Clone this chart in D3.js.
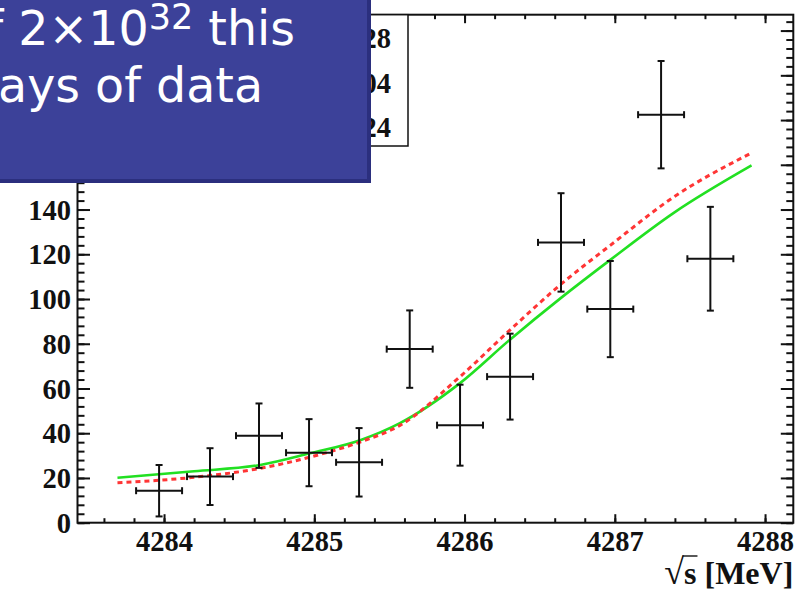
<!DOCTYPE html>
<html>
<head>
<meta charset="utf-8">
<script src="https://cdn.jsdelivr.net/npm/d3@7"></script>
<style>
  html, body { margin: 0; padding: 0; background: #fff; }
  svg { display: block; }
</style>
</head>
<body>
<svg id="chart" width="809" height="597"></svg>
<script>
// ---------------- data ----------------
const energy    = [4283.967, 4284.306, 4284.632, 4284.965, 4285.298, 4285.635, 4285.970, 4286.303, 4286.642, 4286.970, 4287.308, 4287.636];
const energyErr = [0.153, 0.153, 0.153, 0.153, 0.153, 0.153, 0.153, 0.153, 0.153, 0.153, 0.153, 0.153];
const counts    = [14.3, 20.6, 38.9, 31.3, 27.0, 77.6, 43.6, 65.3, 125.3, 95.5, 182.4, 118.0];
const countsErr = [11.5, 12.7, 14.4, 15.0, 15.3, 17.3, 18.1, 19.2, 22.0, 21.5, 24.0, 23.2];

const curveEnergy = [4283.69, 4284.20, 4284.64, 4284.97, 4285.31, 4285.57, 4285.97, 4286.30, 4286.64, 4286.97, 4287.39, 4287.91];
const greenFit    = [20.1, 23.0, 25.8, 31.0, 37.0, 44.5, 62.4, 81.7, 100.4, 117.5, 138.4, 159.7];
const redFit      = [17.9, 20.3, 24.3, 29.3, 36.2, 43.5, 65.3, 86.0, 106.5, 124.0, 145.5, 165.3];

const xMajorTicks = [4284, 4285, 4286, 4287, 4288];
const yMajorTicks = [0, 20, 40, 60, 80, 100, 120, 140, 160, 180, 200, 220];
const xLabel = "s [MeV]";
const statsValues = ["2.28", "4286.04", "1.24"];
const overlayLine1 = ["With a luminosity of 2×10", "32", " this"];
const overlayLine2 = "scan would take 30 days of data";

// ---------------- layout ----------------
const L = 77.5, R = 793.3, T = 14.7, B = 522.7;
const svg = d3.select("#chart");
svg.append("rect").attr("width", 809).attr("height", 597).attr("fill", "#fff");

const x = d3.scaleLinear().domain([4283.424, 4288.188]).range([L, R]);
const y = d3.scaleLinear().domain([0, 227.1]).range([B, T]);

const xMinor = d3.range(4283.6, 4288.19, 0.2).map(v => +v.toFixed(1));
const yMinor = d3.range(0, 227.2, 4);

const serif = "'Liberation Serif', 'Times New Roman', serif";

function styleAxis(g) {
  g.selectAll("path.domain").remove();
  g.selectAll(".tick line").attr("stroke", "#111").attr("stroke-width", 2);
}

// minor ticks
svg.append("g").attr("transform", `translate(0,${B})`)
  .call(d3.axisBottom(x).tickValues(xMinor).tickSize(-4.5).tickFormat("")).call(styleAxis);
svg.append("g").attr("transform", `translate(0,${T})`)
  .call(d3.axisTop(x).tickValues(xMinor).tickSize(-4.5).tickFormat("")).call(styleAxis);
svg.append("g").attr("transform", `translate(${L},0)`)
  .call(d3.axisLeft(y).tickValues(yMinor).tickSize(-7).tickFormat("")).call(styleAxis);
svg.append("g").attr("transform", `translate(${R},0)`)
  .call(d3.axisRight(y).tickValues(yMinor).tickSize(-7).tickFormat("")).call(styleAxis);

// major ticks
const xb = svg.append("g").attr("transform", `translate(0,${B})`)
  .call(d3.axisBottom(x).tickValues(xMajorTicks).tickSize(-8.5).tickPadding(0).tickFormat(d3.format("d")));
styleAxis(xb);
xb.selectAll(".tick text").attr("y", 28.5).attr("dy", 0)
  .style("font-family", serif).style("font-weight", "bold").style("font-size", "28.5px").attr("fill", "#111");

svg.append("g").attr("transform", `translate(0,${T})`)
  .call(d3.axisTop(x).tickValues(xMajorTicks).tickSize(-8.5).tickFormat("")).call(styleAxis);

const yl = svg.append("g").attr("transform", `translate(${L},0)`)
  .call(d3.axisLeft(y).tickValues(yMajorTicks).tickSize(-12.5).tickFormat(d3.format("d")));
styleAxis(yl);
yl.selectAll(".tick text").attr("x", -6.5).attr("dy", "0.34em")
  .style("font-family", serif).style("font-weight", "bold").style("font-size", "28.5px").attr("fill", "#111");

svg.append("g").attr("transform", `translate(${R},0)`)
  .call(d3.axisRight(y).tickValues(yMajorTicks).tickSize(-12.5).tickFormat("")).call(styleAxis);

// frame
svg.append("rect").attr("x", L).attr("y", T).attr("width", R - L).attr("height", B - T)
  .attr("fill", "none").attr("stroke", "#111").attr("stroke-width", 2);

// axis title
const title = svg.append("text")
  .attr("x", R).attr("y", 584).attr("text-anchor", "end")
  .style("font-family", serif).style("font-weight", "bold").style("font-size", "32px").attr("fill", "#111");
title.append("tspan").style("font-weight", "normal").style("font-size", "36px").text("√");
title.append("tspan").text(xLabel);
try {
  const ext = title.node().getExtentOfChar(1);
  const ext0 = title.node().getExtentOfChar(0);
  svg.append("line")
    .attr("x1", ext0.x + ext0.width - 1.5).attr("x2", ext.x + ext.width + 1)
    .attr("y1", ext0.y + 4).attr("y2", ext0.y + 4)
    .attr("stroke", "#111").attr("stroke-width", 1.4);
} catch (e) {}

// fit curves
const green = curveEnergy.map((e, i) => [e, greenFit[i]]);
const red = curveEnergy.map((e, i) => [e, redFit[i]]);
const line = d3.line().x(d => x(d[0])).y(d => y(d[1])).curve(d3.curveMonotoneX);
svg.append("path").attr("d", line(green)).attr("fill", "none")
  .attr("stroke", "#22e022").attr("stroke-width", 2.6);
svg.append("path").attr("d", line(red)).attr("fill", "none")
  .attr("stroke", "#ff3535").attr("stroke-width", 3).attr("stroke-dasharray", "5,4");

// data points with error bars
const pts = energy.map((e, i) => ({ e, v: counts[i], ex: energyErr[i], ey: countsErr[i] }));
const eb = svg.append("g").attr("stroke", "#111").attr("stroke-width", 2).attr("fill", "none");
const cap = 3.5;
pts.forEach(p => {
  const cx = x(p.e), cy = y(p.v);
  const x0 = x(p.e - p.ex), x1 = x(p.e + p.ex);
  const y0 = y(p.v - p.ey), y1 = y(p.v + p.ey);
  eb.append("line").attr("x1", x0).attr("x2", x1).attr("y1", cy).attr("y2", cy);
  eb.append("line").attr("x1", cx).attr("x2", cx).attr("y1", y0).attr("y2", y1);
  eb.append("line").attr("x1", x0).attr("x2", x0).attr("y1", cy - cap).attr("y2", cy + cap);
  eb.append("line").attr("x1", x1).attr("x2", x1).attr("y1", cy - cap).attr("y2", cy + cap);
  eb.append("line").attr("x1", cx - cap).attr("x2", cx + cap).attr("y1", y0).attr("y2", y0);
  eb.append("line").attr("x1", cx - cap).attr("x2", cx + cap).attr("y1", y1).attr("y2", y1);
});

// stats box (mostly hidden behind the slide box)
const sb = svg.append("g");
sb.append("rect").attr("x", 200).attr("y", T).attr("width", 408 - 200).attr("height", 146 - T)
  .attr("fill", "#fff").attr("stroke", "#111").attr("stroke-width", 1.5);
statsValues.forEach((val, i) => {
  const by = 48 + i * 44.5;
  sb.append("text").attr("x", 391).attr("y", by).attr("text-anchor", "end")
    .style("font-family", serif).style("font-weight", "bold").style("font-size", "28.5px").attr("fill", "#111").text(val);
});

// overlay slide box
const ov = svg.append("g");
ov.append("rect").attr("x", -20).attr("y", -20).attr("width", 20 + 371).attr("height", 20 + 183).attr("fill", "#2b2f7e");
ov.append("rect").attr("x", -20).attr("y", -20).attr("width", 20 + 367).attr("height", 20 + 179).attr("fill", "#3c4199");
const sans = "'DejaVu Sans', Verdana, sans-serif";
const t1 = ov.append("text").attr("x", 295).attr("y", 45).attr("text-anchor", "end")
  .style("font-family", sans).style("font-size", "47.5px").attr("fill", "#fff");
t1.append("tspan").text(overlayLine1[0]);
t1.append("tspan").attr("dy", -16).style("font-size", "35px").text(overlayLine1[1]);
t1.append("tspan").attr("dy", 16).text(overlayLine1[2]);
ov.append("text").attr("x", 263).attr("y", 102).attr("text-anchor", "end")
  .style("font-family", sans).style("font-size", "47.5px").attr("fill", "#fff").text(overlayLine2);
</script>
</body>
</html>
